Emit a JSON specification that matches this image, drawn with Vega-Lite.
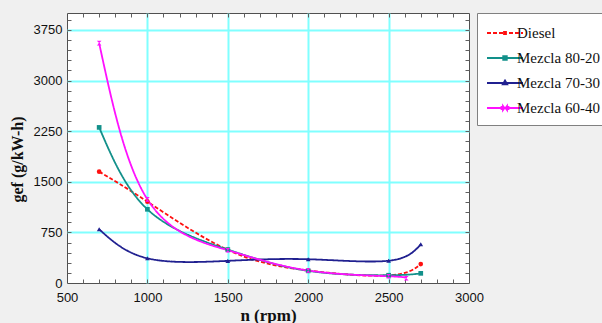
{
  "$schema": "https://vega.github.io/schema/vega-lite/v6.json",
  "width": 402,
  "height": 270,
  "autosize": {"type": "none"},
  "padding": {"left": 67, "top": 13, "right": 133, "bottom": 40},
  "background": "#f0f0f0",
  "config": {
    "view": {"fill": "white", "stroke": "#505050", "strokeWidth": 1},
    "axis": {"labelFont": "Liberation Sans", "labelFontSize": 13, "labelColor": "#111111", "titleFont": "Liberation Serif", "titleFontSize": 16, "titleFontWeight": "bold", "titleColor": "#111111", "format": "d", "labelFlush": false}
  },
  "data": {"values": [
    {"series": "Diesel", "rpm": 700, "g": 1650},
    {"series": "Diesel", "rpm": 1000, "g": 1205},
    {"series": "Diesel", "rpm": 1500, "g": 490},
    {"series": "Diesel", "rpm": 2000, "g": 185},
    {"series": "Diesel", "rpm": 2500, "g": 112},
    {"series": "Diesel", "rpm": 2700, "g": 280},
    {"series": "Mezcla 80-20", "rpm": 700, "g": 2305},
    {"series": "Mezcla 80-20", "rpm": 1000, "g": 1092},
    {"series": "Mezcla 80-20", "rpm": 1500, "g": 495},
    {"series": "Mezcla 80-20", "rpm": 2000, "g": 180},
    {"series": "Mezcla 80-20", "rpm": 2500, "g": 115},
    {"series": "Mezcla 80-20", "rpm": 2700, "g": 143},
    {"series": "Mezcla 70-30", "rpm": 700, "g": 796},
    {"series": "Mezcla 70-30", "rpm": 1000, "g": 366},
    {"series": "Mezcla 70-30", "rpm": 1500, "g": 328},
    {"series": "Mezcla 70-30", "rpm": 2000, "g": 352},
    {"series": "Mezcla 70-30", "rpm": 2500, "g": 330},
    {"series": "Mezcla 70-30", "rpm": 2700, "g": 573},
    {"series": "Mezcla 60-40", "rpm": 700, "g": 3553},
    {"series": "Mezcla 60-40", "rpm": 1000, "g": 1240},
    {"series": "Mezcla 60-40", "rpm": 1500, "g": 485},
    {"series": "Mezcla 60-40", "rpm": 2000, "g": 185},
    {"series": "Mezcla 60-40", "rpm": 2500, "g": 100},
    {"series": "Mezcla 60-40", "rpm": 2610, "g": 70}
  ]},
  "resolve": {"axis": {"x": "independent", "y": "independent"}, "scale": {"shape": "independent", "color": "independent"}, "legend": {"color": "independent", "shape": "independent"}},
  "layer": [
    {
      "mark": {"type": "line", "interpolate": "natural", "strokeWidth": 1.8},
      "encoding": {
        "x": {"field": "rpm", "type": "quantitative", "scale": {"domain": [500, 3000], "nice": false, "zero": false},
          "axis": {"orient": "bottom", "values": [500, 1000, 1500, 2000, 2500, 3000], "grid": false, "ticks": false, "domain": false, "labelPadding": 8, "title": "n (rpm)", "titlePadding": 3, "titleFontSize": 17}},
        "y": {"field": "g", "type": "quantitative", "scale": {"domain": [0, 4000], "nice": false, "zero": false},
          "axis": {"orient": "left", "values": [0, 750, 1500, 2250, 3000, 3750], "grid": false, "ticks": false, "domain": false, "labelPadding": 5, "title": "gef (g/kW-h)", "titlePadding": 8, "titleY": 146}},
        "color": {"field": "series", "type": "nominal", "scale": {"domain": ["Diesel", "Mezcla 80-20", "Mezcla 70-30", "Mezcla 60-40"], "range": ["#ff1010", "#12908a", "#202090", "#ff10ff"]}, "legend": null},
        "strokeDash": {"field": "series", "type": "nominal", "scale": {"domain": ["Diesel", "Mezcla 80-20", "Mezcla 70-30", "Mezcla 60-40"], "range": [[4, 2], [1, 0], [1, 0], [1, 0]]}, "legend": null}
      }
    },
    {
      "mark": {"type": "point", "filled": true, "opacity": 1, "size": 22},
      "encoding": {
        "x": {"field": "rpm", "type": "quantitative", "scale": {"domain": [500, 3000], "nice": false, "zero": false},
          "axis": {"orient": "bottom", "values": [1000, 1500, 2000, 2500], "grid": true, "gridColor": "#80ffff", "gridWidth": 2, "labels": false, "ticks": false, "domain": false, "title": null}},
        "y": {"field": "g", "type": "quantitative", "scale": {"domain": [0, 4000], "nice": false, "zero": false},
          "axis": {"orient": "left", "values": [750, 1500, 2250, 3000, 3750], "grid": true, "gridColor": "#80ffff", "gridWidth": 2, "labels": false, "ticks": false, "domain": false, "title": null}},
        "color": {"field": "series", "type": "nominal", "scale": {"domain": ["Diesel", "Mezcla 80-20", "Mezcla 70-30", "Mezcla 60-40"], "range": ["#ff1010", "#12908a", "#202090", "#ff10ff"]}, "legend": null},
        "shape": {"field": "series", "type": "nominal", "scale": {"domain": ["Diesel", "Mezcla 80-20", "Mezcla 70-30", "Mezcla 60-40"], "range": ["circle", "square", "triangle-up", "M-1,-1L1,-1L-1,1L1,1Z"]}, "legend": null}
      }
    },
    {
      "mark": {"type": "point", "filled": false, "opacity": 0},
      "encoding": {
        "x": {"field": "rpm", "type": "quantitative", "scale": {"domain": [500, 3000], "nice": false, "zero": false},
          "axis": {"orient": "bottom", "values": [600, 700, 800, 900, 1000, 1100, 1200, 1300, 1400, 1500, 1600, 1700, 1800, 1900, 2000, 2100, 2200, 2300, 2400, 2500, 2600, 2700, 2800, 2900], "grid": false, "labels": false, "ticks": true, "tickSize": -4, "tickColor": "#606060", "domain": false, "title": null}},
        "y": {"field": "g", "type": "quantitative", "scale": {"domain": [0, 4000], "nice": false, "zero": false},
          "axis": {"orient": "left", "values": [150, 300, 450, 600, 750, 900, 1050, 1200, 1350, 1500, 1650, 1800, 1950, 2100, 2250, 2400, 2550, 2700, 2850, 3000, 3150, 3300, 3450, 3600, 3750, 3900], "grid": false, "labels": false, "ticks": true, "tickSize": -4, "tickColor": "#606060", "domain": false, "title": null}},
        "color": {"field": "series", "type": "nominal", "scale": {"domain": ["Diesel", "Mezcla 80-20", "Mezcla 70-30", "Mezcla 60-40"], "range": ["#ff1010", "#12908a", "#202090", "#ff10ff"]},
          "legend": {"orient": "none", "legendX": 410, "legendY": 0, "title": null, "padding": 9, "symbolSize": 400, "symbolOffset": 8, "labelOffset": 1, "rowPadding": 6, "fillColor": "white", "strokeColor": "#808080", "labelFont": "Liberation Serif", "labelFontSize": 15, "labelColor": "#111111", "symbolOpacity": 1, "symbolStrokeWidth": 1.8}},
        "shape": {"field": "series", "type": "nominal",
          "scale": {"domain": ["Diesel", "Mezcla 80-20", "Mezcla 70-30", "Mezcla 60-40"],
            "range": [
              "M-1.8,0H-1.4M-1.2,0H-0.8M-0.6,0H-0.2M0.4,0H0.8M1,0H1.4M1.6,0H1.8M-0.1,-0.1H0.1V0.1H-0.1Z",
              "M-1.8,0H1.8M-0.18,-0.18H0.18V0.18H-0.18Z",
              "M-1.8,0H1.8M0,-0.25L0.22,0.13H-0.22Z",
              "M-1.8,0H1.8M-0.2,-0.2L-0.05,0L-0.2,0.2ZM0.2,-0.2L0.05,0L0.2,0.2ZM-0.35,-0.2V0.2M0.35,-0.2V0.2"
            ]},
          "legend": {"orient": "none", "legendX": 410, "legendY": 0, "title": null, "padding": 9, "symbolSize": 400, "symbolOffset": 8, "labelOffset": 1, "rowPadding": 6, "fillColor": "white", "strokeColor": "#808080", "labelFont": "Liberation Serif", "labelFontSize": 15, "labelColor": "#111111", "symbolOpacity": 1, "symbolStrokeWidth": 1.8}
        }
      }
    },
    {
      "mark": {"type": "point", "opacity": 0},
      "encoding": {
        "x": {"field": "rpm", "type": "quantitative", "scale": {"domain": [500, 3000], "nice": false, "zero": false},
          "axis": {"orient": "top", "values": [600, 700, 800, 900, 1000, 1100, 1200, 1300, 1400, 1500, 1600, 1700, 1800, 1900, 2000, 2100, 2200, 2300, 2400, 2500, 2600, 2700, 2800, 2900], "grid": false, "labels": false, "ticks": true, "tickSize": -4, "tickColor": "#606060", "domain": false, "title": null}},
        "y": {"field": "g", "type": "quantitative", "scale": {"domain": [0, 4000], "nice": false, "zero": false},
          "axis": {"orient": "right", "values": [150, 300, 450, 600, 750, 900, 1050, 1200, 1350, 1500, 1650, 1800, 1950, 2100, 2250, 2400, 2550, 2700, 2850, 3000, 3150, 3300, 3450, 3600, 3750, 3900], "grid": false, "labels": false, "ticks": true, "tickSize": -4, "tickColor": "#606060", "domain": false, "title": null}}
      }
    }
  ]
}
